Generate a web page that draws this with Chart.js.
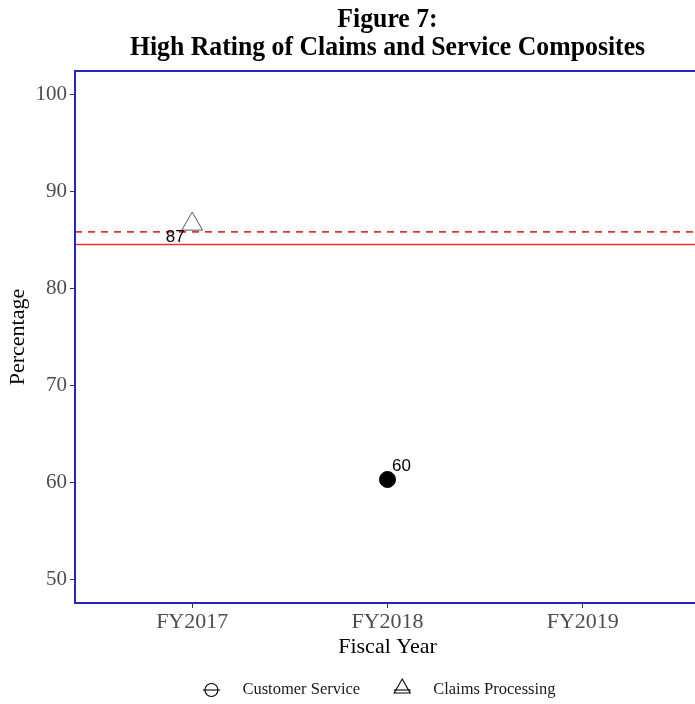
<!DOCTYPE html>
<html>
<head>
<meta charset="utf-8">
<script src="https://cdn.jsdelivr.net/npm/chart.js@4.4.0/dist/chart.umd.min.js"></script>
<style>
  html, body { margin: 0; padding: 0; background: #fff; }
  #wrap { width: 695px; height: 704px; overflow: hidden; }
</style>
</head>
<body>
<div id="wrap"><canvas id="chart" width="700" height="704"></canvas></div>
<script>
const titleLines = ["Figure 7:", "High Rating of Claims and Service Composites"];
const categories = ["FY2017", "FY2018", "FY2019"];
const customerService = [null, 60.3, null];
const claimsProcessing = [86.6, null, null];
const yTicks = [50, 60, 70, 80, 90, 100];
const benchmarkSolid = 84.5;
const benchmarkDashed = 85.8;
const legendLabels = ["Customer Service", "Claims Processing"];

const serif = "'Liberation Serif', 'Times New Roman', serif";

function toPoints(values) {
    return values
        .map((v, i) => (v === null ? null : { x: i, y: v }))
        .filter((p) => p !== null);
}

// blue panel border, red benchmark lines, labels, title and legend
const panelPlugin = {
    id: "panel",
    beforeDatasetsDraw(chart) {
        const { ctx, chartArea: a, scales } = chart;
        ctx.save();
        ctx.strokeStyle = "#e8322f";
        ctx.lineWidth = 1.6;
        const yS = scales.y.getPixelForValue(benchmarkSolid);
        ctx.beginPath();
        ctx.moveTo(a.left, yS);
        ctx.lineTo(a.right, yS);
        ctx.stroke();
        const yD = scales.y.getPixelForValue(benchmarkDashed);
        ctx.setLineDash([7, 6]);
        ctx.beginPath();
        ctx.moveTo(a.left, yD);
        ctx.lineTo(a.right, yD);
        ctx.stroke();
        ctx.restore();
    },
    afterDatasetsDraw(chart) {
        const { ctx, chartArea: a } = chart;
        ctx.save();
        ctx.strokeStyle = "#2424c8";
        ctx.lineWidth = 2;
        ctx.strokeRect(a.left, a.top, a.right - a.left, a.bottom - a.top);

        // value labels next to the points
        ctx.font = "17px 'Liberation Sans', Arial, sans-serif";
        ctx.fillStyle = "#000";
        ctx.textAlign = "center";
        ctx.textBaseline = "middle";
        chart.data.datasets.forEach((ds, di) => {
            const meta = chart.getDatasetMeta(di);
            const off = ds.labelOffset;
            meta.data.forEach((el, i) => {
                const txt = String(Math.round(ds.data[i].y));
                ctx.fillText(txt, el.x + off[0], el.y + off[1]);
            });
        });
        ctx.restore();
    },
    afterDraw(chart) {
        const { ctx, chartArea: a } = chart;
        const cx = (a.left + a.right) / 2;
        ctx.save();
        // title (slightly condensed like the original)
        ctx.fillStyle = "#000";
        ctx.textAlign = "center";
        ctx.textBaseline = "alphabetic";
        ctx.font = "bold 28px " + serif;
        ctx.save();
        ctx.translate(cx, 0);
        ctx.scale(0.92, 1);
        ctx.fillText(titleLines[0], 0, 27);
        ctx.fillText(titleLines[1], 0, 55);
        ctx.restore();

        // legend
        ctx.font = "16.5px " + serif;
        const keyW = 24, keyGap = 19, itemGap = 30;
        const w1 = ctx.measureText(legendLabels[0]).width;
        const w2 = ctx.measureText(legendLabels[1]).width;
        const total = keyW + keyGap + w1 + itemGap + keyW + keyGap + w2;
        let x = cx - 10 - total / 2;
        const ly = 690;
        const styles = ["circle", "triangle"];
        [w1, w2].forEach((w, i) => {
            const kx = x + keyW / 2;
            ctx.strokeStyle = "#000";
            ctx.lineWidth = 1.1;
            ctx.beginPath();
            ctx.moveTo(kx - 8.5, ly);
            ctx.lineTo(kx + 8.5, ly);
            ctx.stroke();
            ctx.beginPath();
            if (styles[i] === "circle") {
                ctx.arc(kx, ly, 6.5, 0, Math.PI * 2);
            } else {
                ctx.moveTo(kx, ly - 11);
                ctx.lineTo(kx + 8, ly + 3);
                ctx.lineTo(kx - 8, ly + 3);
                ctx.closePath();
            }
            ctx.stroke();
            ctx.fillStyle = "#1a1a1a";
            ctx.textAlign = "left";
            ctx.textBaseline = "middle";
            ctx.fillText(legendLabels[i], x + keyW + keyGap, ly);
            x += keyW + keyGap + w + itemGap;
        });
        ctx.restore();
    },
};

const ctx = document.getElementById("chart").getContext("2d");

new Chart(ctx, {
    type: "scatter",
    data: {
        datasets: [
            {
                label: legendLabels[0],
                data: toPoints(customerService),
                pointStyle: "circle",
                pointRadius: 8,
                pointHoverRadius: 8,
                backgroundColor: "#000",
                borderColor: "#000",
                borderWidth: 1,
                labelOffset: [14, -13],
            },
            {
                label: legendLabels[1],
                data: toPoints(claimsProcessing),
                pointStyle: "triangle",
                pointRadius: 12,
                pointHoverRadius: 12,
                backgroundColor: "rgba(0,0,0,0)",
                borderColor: "#555",
                borderWidth: 1,
                labelOffset: [-17, 13],
            },
        ],
    },
    options: {
        responsive: false,
        animation: false,
        layout: { autoPadding: false, padding: { top: 71, left: 0, right: 0, bottom: 44 } },
        plugins: {
            legend: { display: false },
            title: { display: false },
            tooltip: { enabled: false },
        },
        scales: {
            x: {
                type: "linear",
                min: -0.6,
                max: 2.6,
                afterBuildTicks: (s) => {
                    s.ticks = categories.map((c, i) => ({ value: i }));
                },
                afterFit: (s) => {
                    s.height = 57;
                    s.paddingLeft = 0;
                    s.paddingRight = 0;
                },
                grid: {
                    drawOnChartArea: false,
                    drawTicks: true,
                    tickLength: 5,
                    tickColor: "#333",
                },
                border: { display: false },
                ticks: {
                    padding: 1,
                    color: "#4d4d4d",
                    font: { family: serif, size: 22 },
                    maxRotation: 0,
                    callback: (v) => categories[v],
                },
                title: {
                    display: true,
                    text: "Fiscal Year",
                    color: "#000",
                    font: { family: serif, size: 22 },
                    padding: { top: 0, bottom: 0 },
                },
            },
            y: {
                min: 47.58,
                max: 102.37,
                afterBuildTicks: (s) => {
                    s.ticks = yTicks.map((v) => ({ value: v }));
                },
                afterFit: (s) => {
                    s.width = 75;
                    s.paddingTop = 0;
                    s.paddingBottom = 0;
                },
                grid: {
                    drawOnChartArea: false,
                    drawTicks: true,
                    tickLength: 5,
                    tickColor: "#333",
                },
                border: { display: false },
                ticks: {
                    padding: 3,
                    color: "#4d4d4d",
                    font: { family: serif, size: 21 },
                },
                title: {
                    display: true,
                    text: "Percentage",
                    color: "#000",
                    font: { family: serif, size: 22 },
                    padding: { top: 5, bottom: 0 },
                },
            },
        },
    },
    plugins: [panelPlugin],
});
</script>
</body>
</html>
